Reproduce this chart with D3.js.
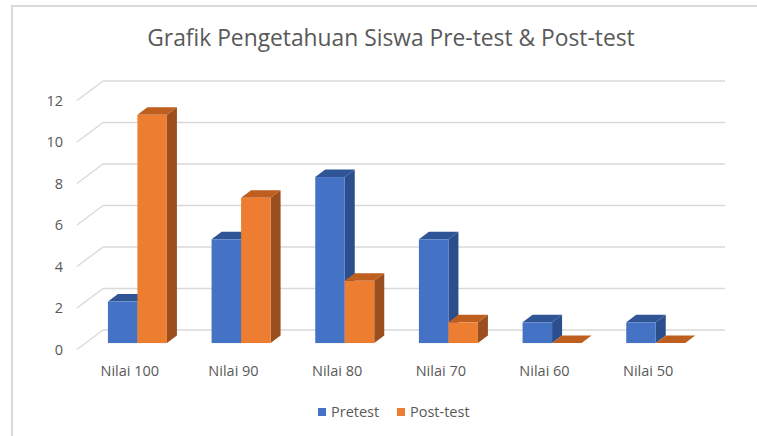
<!DOCTYPE html>
<html><head><meta charset="utf-8">
<script src="https://cdn.jsdelivr.net/npm/d3@7"></script>
<style>html,body{margin:0;padding:0;background:#fff;}svg{display:block;}</style>
</head><body>
<svg id="chart" width="757" height="436"></svg>
<script>
const categories = ["Nilai 100","Nilai 90","Nilai 80","Nilai 70","Nilai 60","Nilai 50"];
const seriesNames = ["Pretest","Post-test"];
const pretest = [2,5,8,5,1,1];
const posttest = [11,7,3,1,0,0];
const yTicks = [0,2,4,6,8,10,12];
const titleText = "Grafik Pengetahuan Siswa Pre-test & Post-test";

const seriesValues = [pretest, posttest];
const colors = [
  {front:"#4472C4", top:"#2F5597", side:"#2C4E8C"},
  {front:"#ED7D31", top:"#BE5E1F", side:"#9C4F1E"}
];
const FONT = "'Open Sans', Carlito, Calibri, sans-serif";

const svg = d3.select("#chart");
// outer border
svg.append("rect").attr("x",12).attr("y",6).attr("width",800).attr("height",500)
  .attr("fill","#fff").attr("stroke","#d9d9d9").attr("stroke-width",2);

// back wall scales
const x = d3.scaleBand().domain(categories).range([103,725]);
const y = d3.scaleLinear().domain([0,12]).range([330,81]);
const DX = -26, DY = 19.5; // back -> front offset
function P(px, v, z){ // z: 0 front, 1 back
  return [px + DX*(1-z), y(v) + DY*(1-z)];
}

// gridlines
const grid = svg.append("g");
yTicks.forEach(t=>{
  grid.append("line").attr("x1",x.range()[0]).attr("x2",x.range()[1])
    .attr("y1",y(t)).attr("y2",y(t)).attr("stroke","#d9d9d9").attr("stroke-width",1.3);
  const a = P(x.range()[0], t, 1), b = P(x.range()[0], t, 0);
  grid.append("line").attr("x1",a[0]).attr("y1",a[1]).attr("x2",b[0]).attr("y2",b[1])
    .attr("stroke","#d9d9d9").attr("stroke-width",1.3);
});

// y labels
svg.append("g").selectAll("text").data(yTicks).join("text")
  .attr("x",63).attr("y",d=>P(0,d,0)[1]).attr("dy","0.35em")
  .attr("text-anchor","end").attr("font-family",FONT).attr("font-size",14.5)
  .attr("fill","#595959").text(d=>d);

// bars
const bw = 29.5;
const sub = d3.scaleBand().domain(seriesNames).range([0, bw*2]);
const zF = 0.33, zB = 0.715;
const bars = svg.append("g");
const poly = pts => pts.map(p=>p.join(",")).join(" ");
categories.forEach((c,i)=>{
  const cx = x(c) + x.bandwidth()/2 - bw;
  seriesNames.forEach((s,j)=>{
    const v = seriesValues[j][i];
    const x0 = cx + sub(s), x1 = x0 + sub.bandwidth();
    const col = colors[j];
    if (v > 0) {
      bars.append("polygon").attr("points", poly([P(x1,0,zF),P(x1,0,zB),P(x1,v,zB),P(x1,v,zF)]))
        .attr("fill",col.side);
    }
    bars.append("polygon").attr("points", poly([P(x0,v,zF),P(x1,v,zF),P(x1,v,zB),P(x0,v,zB)]))
      .attr("fill",col.top);
    if (v > 0) {
      const a = P(x0,v,zF), b = P(x1,0,zF);
      bars.append("rect").attr("x",a[0]).attr("y",a[1]).attr("width",b[0]-a[0]).attr("height",b[1]-a[1])
        .attr("fill",col.front);
    }
  });
});

// category labels
svg.append("g").selectAll("text").data(categories).join("text")
  .attr("x",d=>x(d)+x.bandwidth()/2+DX+1).attr("y",376)
  .attr("text-anchor","middle").attr("font-family",FONT).attr("font-size",14.5)
  .attr("fill","#595959").text(d=>d);

// title
svg.append("text").attr("x",391).attr("y",46).attr("text-anchor","middle")
  .attr("font-family",FONT).attr("font-size",22.8).attr("fill","#595959").text(titleText);

// legend
const leg = svg.append("g");
const legX = [318, 397];
seriesNames.forEach((s,j)=>{
  leg.append("rect").attr("x",legX[j]).attr("y",408).attr("width",8).attr("height",8).attr("fill",colors[j].front);
  leg.append("text").attr("x",legX[j]+13).attr("y",417)
    .attr("font-family",FONT).attr("font-size",14.5).attr("fill","#595959").text(s);
});
</script>
</body></html>
